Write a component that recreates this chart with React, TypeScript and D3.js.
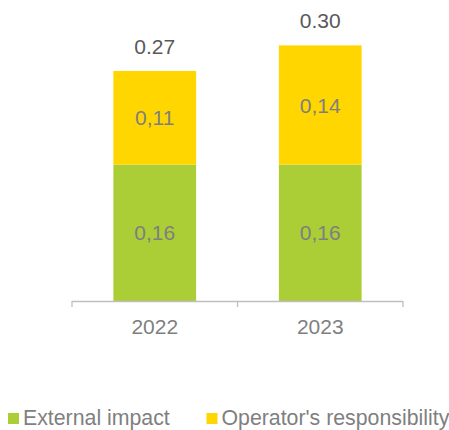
import React from "react";
import * as d3 from "d3";

const categories = ["2022", "2023"];
const externalImpact = [0.16, 0.16];
const operatorResponsibility = [0.11, 0.14];
const totals = ["0.27", "0.30"];
const seriesNames = ["External impact", "Operator's responsibility"];
const seriesColors = ["#ABCE37", "#FFD600"];

const W = 449;
const H = 430;
const FONT = "'Liberation Sans', Arial, sans-serif";

export default function App() {
  const x = d3.scaleBand<string>().domain(categories).range([72, 403]).paddingInner(0.5).paddingOuter(0.25);
  const y = d3.scaleLinear().domain([0, 0.35]).range([301, 301 - 0.35 * 852]);
  const series = [externalImpact, operatorResponsibility];
  const stackData = categories.map((c, i) => ({ cat: c, s0: series[0][i], s1: series[1][i] }));
  const stack = d3.stack<any>().keys(["s0", "s1"])(stackData);
  const fmt = (v: number) => v.toFixed(2).replace(".", ",");
  const ticks = [72, ...categories.map((c) => (x(c) as number) + x.bandwidth() + (x.step() - x.bandwidth()) / 2)];

  return (
    <svg width={W} height={H} style={{ position: "absolute", left: 0, top: 0 }} fontFamily={FONT}>
      <rect width={W} height={H} fill="#fff" />
      {stack.map((layer, si) =>
        layer.map((d, i) => {
          const x0 = x(categories[i]) as number;
          const yTop = y(d[1]);
          const yBot = y(d[0]);
          return (
            <g key={`${si}-${i}`}>
              <rect x={x0} y={yTop} width={x.bandwidth()} height={yBot - yTop} fill={seriesColors[si]} />
              <text
                x={x0 + x.bandwidth() / 2}
                y={(yTop + yBot) / 2 + 7.5}
                textAnchor="middle"
                fontSize={21}
                fill="#7F7F7F"
              >
                {fmt(series[si][i])}
              </text>
            </g>
          );
        })
      )}
      {categories.map((c, i) => (
        <text
          key={c + "t"}
          x={(x(c) as number) + x.bandwidth() / 2}
          y={y(externalImpact[i] + operatorResponsibility[i]) - 17}
          textAnchor="middle"
          fontSize={21}
          fill="#595959"
        >
          {totals[i]}
        </text>
      ))}
      <line x1={72} x2={403} y1={301.5} y2={301.5} stroke="#BFBFBF" strokeWidth={1.3} />
      {ticks.map((t, i) => (
        <line key={i} x1={t} x2={t} y1={301} y2={307} stroke="#BFBFBF" strokeWidth={1.3} />
      ))}
      {categories.map((c) => (
        <text key={c} x={(x(c) as number) + x.bandwidth() / 2} y={334} textAnchor="middle" fontSize={21} fill="#7F7F7F">
          {c}
        </text>
      ))}
      {seriesNames.map((n, i) => {
        const lx = i === 0 ? 8 : 206.5;
        return (
          <g key={n}>
            <rect x={lx} y={413} width={11} height={11} fill={seriesColors[i]} />
            <text x={lx + 15} y={425} fontSize={21.3} fill="#7F7F7F">
              {n}
            </text>
          </g>
        );
      })}
    </svg>
  );
}
